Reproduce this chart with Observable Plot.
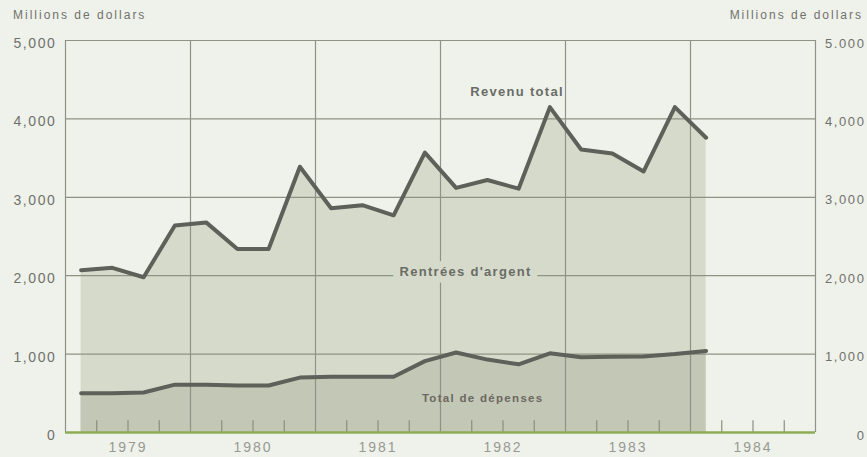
<!DOCTYPE html>
<html><head><meta charset="utf-8">
<script src="https://cdn.jsdelivr.net/npm/d3@7"></script>
<script src="https://cdn.jsdelivr.net/npm/@observablehq/plot@0.6"></script>
<style>
body{margin:0;background:#eff1eb;}
#wrap{position:relative;width:867px;height:457px;font-family:"Liberation Sans",Arial,sans-serif;}
.hdr{position:absolute;top:8px;font-size:12px;color:#6f726b;letter-spacing:2px;white-space:nowrap;}
#wrap svg{position:absolute;left:0;top:0;background:transparent;}
#wrap svg [aria-label="y-axis tick label"] text{letter-spacing:1.6px;}
#wrap svg [aria-label="x-axis tick label"] text{letter-spacing:2px;}
#wrap svg .lbl text{letter-spacing:1.3px;}
</style></head><body><div id="wrap">
<div class="hdr" style="left:13px;">Millions de dollars</div>
<div class="hdr" style="right:4px;">Millions de dollars</div>
</div>
<script>
const quarters = ["1979 T1","1979 T2","1979 T3","1979 T4","1980 T1","1980 T2","1980 T3","1980 T4",
  "1981 T1","1981 T2","1981 T3","1981 T4","1982 T1","1982 T2","1982 T3","1982 T4",
  "1983 T1","1983 T2","1983 T3","1983 T4","1984 T1"];
const revenuTotal = [2070,2100,1980,2640,2680,2340,2340,3390,2860,2900,2770,3570,3120,3220,3110,4150,3610,3560,3330,4150,3760];
const totalDepenses = [500,500,510,610,610,600,600,700,710,710,710,910,1020,930,870,1010,960,965,970,1000,1040];
const years = ["1979","1980","1981","1982","1983","1984"];
const yTicks = [0,1000,2000,3000,4000,5000];
const leftLabels = ["0","1,000","2,000","3,000","4,000","5,000"];
const rightLabels = ["0","1,000","2,000","3,000","4,000","5.000"];

const data = quarters.map((q,i)=>({q, i: i+0.5, rev: revenuTotal[i], dep: totalDepenses[i]}));
const yearStarts = years.map((y,k)=>k*4);
const yearCenters = years.map((y,k)=>k*4+2);
const quarterTicks = d3.range(1, years.length*4).filter(k=>k%4!==0);

const grid = "#8f9385";
const chart = Plot.plot({
  width: 867, height: 457,
  marginLeft: 65, marginRight: 52, marginTop: 40, marginBottom: 25,
  style: {fontFamily: '"Liberation Sans", Arial, sans-serif', background: "transparent", color: "#72756d"},
  x: {type: "linear", domain: [0, years.length*4], axis: null},
  y: {domain: [0, 5000], axis: null},
  marks: [
    Plot.areaY(data, {x: "i", y: "rev", fill: "#d6dacb"}),
    Plot.areaY(data, {x: "i", y: "dep", fill: "#c3c7b5"}),
    Plot.ruleY(yTicks.slice(1, -1), {stroke: grid, strokeWidth: 1.2}),
    Plot.ruleX(yearStarts.slice(1), {stroke: grid, strokeWidth: 1.2}),
    Plot.ruleX([0, years.length*4], {stroke: grid, strokeWidth: 1.2}),
    Plot.ruleY([5000], {stroke: grid, strokeWidth: 1.2}),
    Plot.ruleX(quarterTicks, {y1: 0, y2: 150, stroke: "#8a8f7c", strokeWidth: 1.2}),
    Plot.ruleY([0], {stroke: "#8dac55", strokeWidth: 2.5}),
    Plot.lineY(data, {x: "i", y: "dep", stroke: "#5e605a", strokeWidth: 4}),
    Plot.lineY(data, {x: "i", y: "rev", stroke: "#5e605a", strokeWidth: 4}),
    Plot.text(["Revenu total"], {x: 14.45, y: 4340, text: d=>d, fontSize: 13, fontWeight: "bold", fill: "#6a6c66", className: "lbl"}),
    Plot.text(["Rentrées d'argent"], {x: 12.8, y: 2050, text: d=>d, fontSize: 13, fontWeight: "bold", fill: "#6a6c66", stroke: "#d6dacb", strokeWidth: 14, className: "lbl"}),
    Plot.text(["Total de dépenses"], {x: 13.35, y: 440, text: d=>d, fontSize: 11.5, fontWeight: "bold", fill: "#6b6862", className: "lbl"}),
    Plot.axisY({anchor: "left", ticks: yTicks, tickFormat: d=>leftLabels[yTicks.indexOf(d)], tickSize: 0, tickPadding: 9, fontSize: 14, fill: "#6f726b", dy: 3, label: null}),
    Plot.axisY({anchor: "right", ticks: yTicks, tickFormat: d=>rightLabels[yTicks.indexOf(d)], tickSize: 0, tickPadding: 0, textAnchor: "end", dx: 50, fontSize: 13, fill: "#6f726b", dy: 3, label: null}),
    Plot.axisX({ticks: yearCenters, tickFormat: d=>years[yearCenters.indexOf(d)], tickSize: 0, tickPadding: 10, fontSize: 14, fill: "#979a91", label: null})
  ]
});
document.getElementById("wrap").appendChild(chart);
</script></body></html>
